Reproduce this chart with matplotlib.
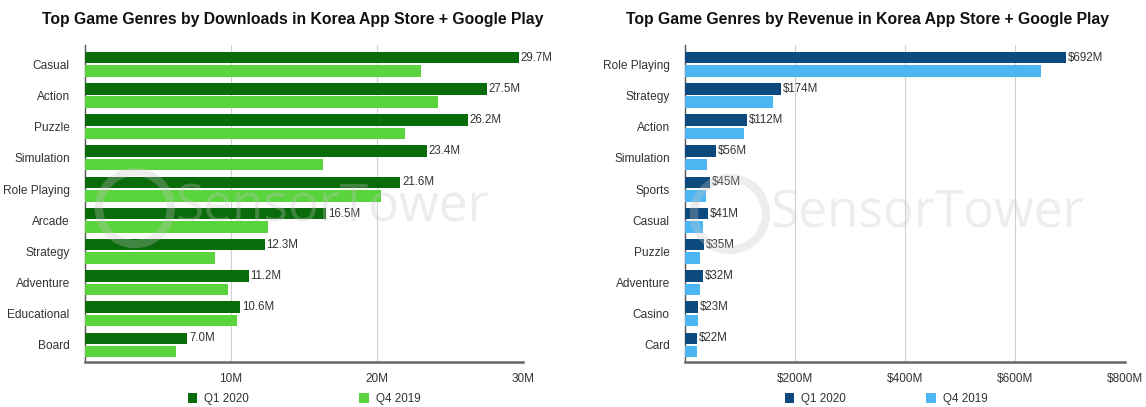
import matplotlib
matplotlib.use('Agg')
import matplotlib.pyplot as plt
from matplotlib.patches import Ellipse
import numpy as np

plt.rcParams['font.family'] = ['Liberation Sans', 'DejaVu Sans']

dl_genres = ['Casual', 'Action', 'Puzzle', 'Simulation', 'Role Playing',
             'Arcade', 'Strategy', 'Adventure', 'Educational', 'Board']
dl_q1_2020 = [29.7, 27.5, 26.2, 23.4, 21.6, 16.5, 12.3, 11.2, 10.6, 7.0]
dl_q4_2019 = [23.0, 24.2, 21.9, 16.3, 20.3, 12.5, 8.9, 9.8, 10.4, 6.2]
dl_ticks = [10, 20, 30]
dl_tick_labels = ['10M', '20M', '30M']

rev_genres = ['Role Playing', 'Strategy', 'Action', 'Simulation', 'Sports',
              'Casual', 'Puzzle', 'Adventure', 'Casino', 'Card']
rev_q1_2020 = [692, 174, 112, 56, 45, 41, 35, 32, 23, 22]
rev_q4_2019 = [648, 160, 108, 40, 38, 33, 28, 28, 23, 21]
rev_ticks = [200, 400, 600, 800]
rev_tick_labels = ['$200M', '$400M', '$600M', '$800M']

W, H = 1146, 407
fig = plt.figure(figsize=(W / 100, H / 100), dpi=100)


def draw_panel(rect, genres, cur, prev, ticks, tick_labels, xmax, fmt,
               dark, light, title, title_x, wm_x, wm_y, leg_x, leg_gap):
    ax = fig.add_axes(rect)
    y = np.arange(len(genres))
    off = 0.215
    h = 0.37
    ax.barh(y - off, cur, height=h, color=dark, zorder=3, label='Q1 2020')
    ax.barh(y + off, prev, height=h, color=light, zorder=3, label='Q4 2019')
    for yi, v in zip(y, cur):
        ax.annotate(fmt(v), (v, yi - off), xytext=(1.5, 0), textcoords='offset points',
                    va='center', ha='left', fontsize=8.3, color='#333333', zorder=4)
    ax.set_ylim(9.545, -0.617)
    ax.set_xlim(0, xmax)
    ax.set_yticks(y)
    ax.set_yticklabels(genres, fontsize=8.6, color='#333333')
    ax.set_xticks(ticks)
    ax.set_xticklabels(tick_labels, fontsize=8.5, color='#333333')
    ax.tick_params(axis='both', length=0)
    ax.tick_params(axis='y', pad=11)
    ax.tick_params(axis='x', pad=8)
    ax.grid(axis='x', color='#d0d0d0', linewidth=0.8, zorder=0)
    for s in ['top', 'right']:
        ax.spines[s].set_visible(False)
    ax.spines['left'].set_color('#555555')
    ax.spines['left'].set_linewidth(1.0)
    ax.spines['bottom'].set_color('#666666')
    ax.spines['bottom'].set_linewidth(1.8)
    ax.legend(loc='upper center', bbox_to_anchor=(leg_x, -0.072), ncol=2, frameon=False,
              fontsize=8.4, handlelength=0.8, handleheight=0.9, columnspacing=leg_gap,
              handletextpad=0.6, labelcolor='#333333', borderpad=0.2)
    # faint watermark, as in the source image
    fig.text(wm_x, wm_y, 'SensorTower', fontsize=37, color='#c4c4c4', alpha=0.3,
             family=['Open Sans', 'DejaVu Sans'], ha='left', va='center', zorder=10)
    cx = wm_x - 0.035
    fig.patches.append(Ellipse((cx, wm_y), 72 / W, 72 / H, transform=fig.transFigure,
                               fill=False, edgecolor='#c4c4c4', alpha=0.3, linewidth=6,
                               zorder=10))
    fig.text(title_x, 0.953, title, fontsize=11.3, fontweight='bold',
             ha='center', va='center', color='#111111')
    return ax


draw_panel([85 / W, 45 / H, 438 / W, 317 / H], dl_genres, dl_q1_2020, dl_q4_2019,
           dl_ticks, dl_tick_labels, 30, lambda v: '{:.1f}M'.format(v),
           '#0a6b0a', '#5ad43c',
           'Top Game Genres by Downloads in Korea App Store + Google Play',
           293 / W, 175 / W, 1 - 208 / H, 0.5, 9.5)
draw_panel([685 / W, 45 / H, 440 / W, 317 / H], rev_genres, rev_q1_2020, rev_q4_2019,
           rev_ticks, rev_tick_labels, 800, lambda v: '${:d}M'.format(v),
           '#0c4a7d', '#4cb6f2',
           'Top Game Genres by Revenue in Korea App Store + Google Play',
           867 / W, 770 / W, 1 - 214 / H, 0.457, 6.9)

fig.savefig('out.png', dpi=100, facecolor='white')
